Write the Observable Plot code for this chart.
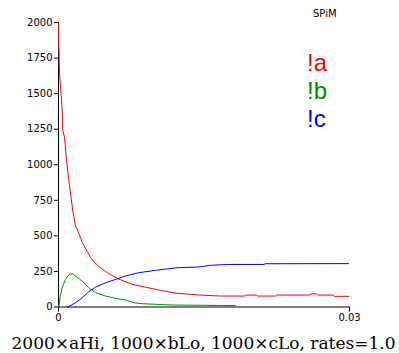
<!DOCTYPE html>
<html>
<head>
<meta charset="utf-8">
<script src="https://cdn.jsdelivr.net/npm/d3@7"></script>
<script src="https://cdn.jsdelivr.net/npm/@observablehq/plot@0.6"></script>
<style>
  body { margin: 0; background: #fff; }
  #wrap { position: relative; width: 399px; height: 353px; overflow: hidden; }
  #caption { font-family: "DejaVu Serif", serif; font-size: 17px; text-align: center; width: 399px; padding-left: 8px; box-sizing: border-box; margin-top: 6px; line-height: 24px; white-space: nowrap; color: #000; }
  .lg { position: absolute; font-family: "Liberation Sans", Arial, sans-serif; font-size: 24px; line-height: 28px; }
  #spim { position: absolute; font-family: "DejaVu Sans", sans-serif; font-size: 10px; left: 313px; top: 8px; }
</style>
</head>
<body>
<div id="wrap"><div id="chart"></div><div id="caption"></div></div>
<script>
// Time values (x) and populations (y)
const tA = [0, 0.00002, 0.00005, 0.0001, 0.00026, 0.00031, 0.00038, 0.00044, 0.00062, 0.00079, 0.00096, 0.00113, 0.00131, 0.00147, 0.00175, 0.00209, 0.00244, 0.00296, 0.00347, 0.00415, 0.00484, 0.00605, 0.0076, 0.00845, 0.01052, 0.01224, 0.01464, 0.0167, 0.0192, 0.0193, 0.0204, 0.0205, 0.0224, 0.0225, 0.0259, 0.0260, 0.0266, 0.0267, 0.0283, 0.0284, 0.0299];
const vA = [2000, 1820, 1820, 1650, 1500, 1452, 1381, 1241, 1194, 1060, 948, 854, 761, 678, 572, 520, 455, 390, 330, 285, 250, 201, 159, 147, 117, 96, 84, 77, 77, 84, 84, 77, 77, 84, 84, 93, 93, 84, 84, 75, 75];
const tB = [0.00003, 0.00021, 0.00038, 0.00072, 0.00106, 0.00147, 0.00175, 0.00244, 0.00312, 0.00381, 0.00485, 0.00588, 0.00691, 0.00776, 0.00863, 0.01, 0.01155, 0.01464, 0.01825];
const vB = [0, 89, 136, 194, 225, 236, 218, 182, 136, 101, 77, 61, 49, 30, 23, 19, 14, 12, 10];
const tC = [0.00096, 0.00175, 0.00244, 0.00312, 0.00381, 0.00485, 0.00588, 0.00691, 0.00828, 0.01, 0.01224, 0.01443, 0.01567, 0.01753, 0.0212, 0.0213, 0.0299];
const vC = [0, 30, 65, 107, 140, 170, 194, 218, 241, 258, 276, 281, 293, 299, 299, 304, 305];
const seriesNames = ["!a", "!b", "!c"];
const seriesColors = ["#ff0000", "#008c00", "#0000ff"];
const yTicks = [0, 250, 500, 750, 1000, 1250, 1500, 1750, 2000];
const xTicks = [0, 0.03];
const yTickLabels = ["0", "250", "500", "750", "1000", "1250", "1500", "1750", "2000"];
const xTickLabels = ["0", "0.03"];
const topLabel = "SPiM";
const captionText = "2000×aHi, 1000×bLo, 1000×cLo, rates=1.0";

const rows = (ts, vs, s) => ts.map((t, i) => ({t, v: vs[i], s}));
const data = [
  ...rows(tA, vA, seriesNames[0]),
  ...rows(tB, vB, seriesNames[1]),
  ...rows(tC, vC, seriesNames[2])
];

const chart = Plot.plot({
  width: 399,
  height: 325,
  marginLeft: 58,
  marginRight: 50,
  marginTop: 22,
  marginBottom: 18.5,
  style: {fontFamily: "DejaVu Sans, sans-serif", fontSize: "10px", color: "#000", background: "#fff"},
  x: {domain: [0, 0.03], ticks: xTicks, tickFormat: (d, i) => xTickLabels[i], tickSize: 5, tickPadding: 2, label: null},
  y: {domain: [0, 2000], ticks: yTicks, tickFormat: (d, i) => yTickLabels[i], tickSize: 4, tickPadding: 2, label: null},
  color: {domain: seriesNames, range: seriesColors},
  marks: [
    Plot.ruleX([0], {stroke: "#000", strokeWidth: 1}),
    Plot.ruleY([0], {stroke: "#000", strokeWidth: 1}),
    Plot.line(data, {x: "t", y: "v", z: "s", stroke: "s", strokeWidth: 1})
  ]
});
document.getElementById("chart").appendChild(chart);
document.getElementById("caption").textContent = captionText;

const wrap = document.getElementById("wrap");
const sp = document.createElement("div");
sp.id = "spim"; sp.textContent = topLabel; wrap.appendChild(sp);
seriesNames.forEach((n, i) => {
  const d = document.createElement("div");
  d.className = "lg";
  d.textContent = n;
  d.style.color = seriesColors[i];
  d.style.left = "307px";
  d.style.top = (49 + 28 * i) + "px";
  wrap.appendChild(d);
});
</script>
</body>
</html>
